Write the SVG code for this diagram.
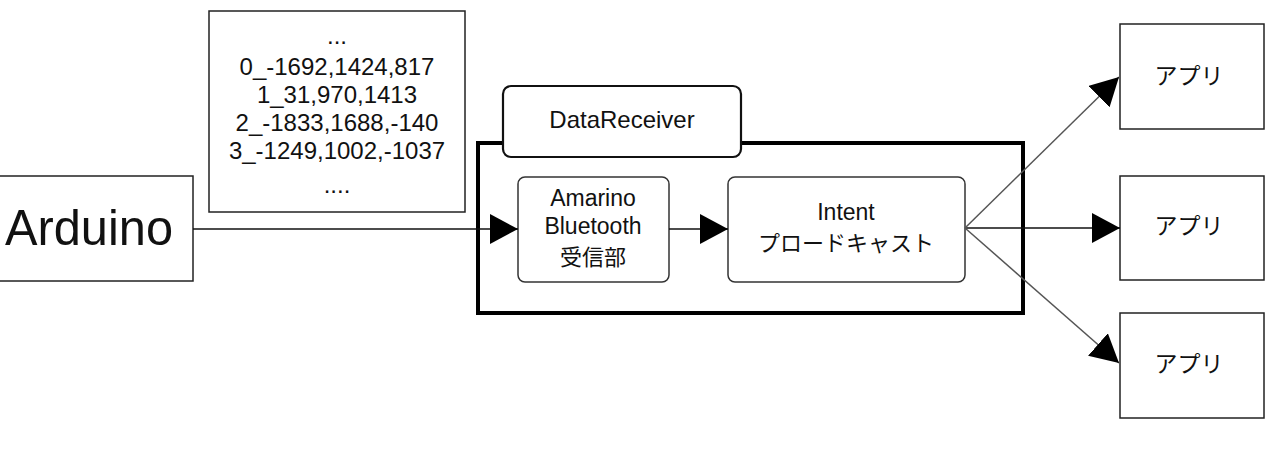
<svg xmlns="http://www.w3.org/2000/svg" width="1272" height="450" viewBox="0 0 1272 450">
<style>
text{font-family:"Liberation Sans","Noto Sans CJK JP",sans-serif;fill:#111;text-anchor:middle}
.jp{font-family:"Noto Sans CJK JP","Liberation Sans",sans-serif}
.box{fill:#fff;stroke:#222;stroke-width:1.5}
.rbox{fill:#fff;stroke:#333;stroke-width:1.5}
.line{stroke:#111;stroke-width:1.3;fill:none}
.diag{stroke:#555;stroke-width:1.5;fill:none}
</style>
<defs>
<marker id="ah" viewBox="0 0 28 30" refX="28" refY="15" markerWidth="28" markerHeight="30" markerUnits="userSpaceOnUse" orient="auto">
<path d="M0,0 L28,15 L0,30 Z" fill="#000"/>
</marker>
</defs>
<g id="container">
<rect x="478" y="143" width="545" height="170" fill="none" stroke="#000" stroke-width="4"/>
</g>
<g id="tab">
<rect x="503" y="86" width="238" height="71" rx="8" fill="#fff" stroke="#111" stroke-width="2.2"/>
<text x="622" y="128" font-size="24">DataReceiver</text>
</g>
<g id="data">
<rect x="209" y="11" width="256" height="201" class="box" stroke-width="1.8"/>
<text x="337" y="44" font-size="24">...</text>
<text x="337" y="75" font-size="24">0_-1692,1424,817</text>
<text x="337" y="103" font-size="24">1_31,970,1413</text>
<text x="337" y="131" font-size="24">2_-1833,1688,-140</text>
<text x="337" y="159" font-size="24">3_-1249,1002,-1037</text>
<text x="337" y="193" font-size="24">....</text>
</g>
<g id="arduino">
<rect x="-2" y="176" width="195" height="105" class="box"/>
<text x="89" y="245" font-size="50" textLength="168" lengthAdjust="spacingAndGlyphs">Arduino</text>
</g>
<g id="amarino">
<rect x="518" y="177" width="151" height="105" rx="7" class="rbox"/>
<text x="593" y="206" font-size="23">Amarino</text>
<text x="593" y="234" font-size="23">Bluetooth</text>
<text x="593" y="265" font-size="22" class="jp">受信部</text>
</g>
<g id="intent">
<rect x="728" y="177" width="237" height="105" rx="7" class="rbox"/>
<text x="846" y="220" font-size="23">Intent</text>
<text x="846" y="251" font-size="22" class="jp">プロードキャスト</text>
</g>
<g id="app1">
<rect x="1120" y="24" width="144" height="105" class="box" stroke-width="2"/>
<text x="1189" y="84" font-size="23" class="jp">アプリ</text>
</g>
<g id="app2">
<rect x="1120" y="176" width="144" height="104" class="box" stroke-width="2"/>
<text x="1189" y="234" font-size="23" class="jp">アプリ</text>
</g>
<g id="app3">
<rect x="1120" y="313" width="144" height="105" class="box" stroke-width="2"/>
<text x="1189" y="372" font-size="23" class="jp">アプリ</text>
</g>
<g id="connectors">
<line x1="193" y1="229" x2="518" y2="229" class="line" marker-end="url(#ah)"/>
<line x1="669" y1="229" x2="728" y2="229" class="line" marker-end="url(#ah)"/>
<line x1="965" y1="228" x2="1120" y2="228" class="line" marker-end="url(#ah)"/>
<line x1="965" y1="228" x2="1119" y2="77" class="diag" marker-end="url(#ah)"/>
<line x1="965" y1="228" x2="1119" y2="363" class="diag" marker-end="url(#ah)"/>
</g>
</svg>
